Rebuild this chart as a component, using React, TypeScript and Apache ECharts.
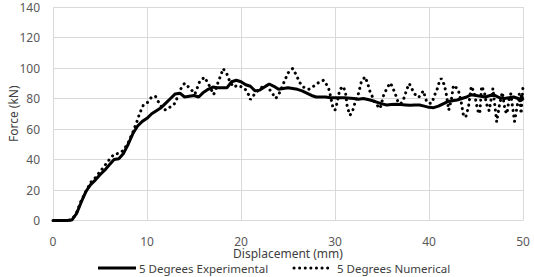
import React, { useEffect, useRef } from "react";
import * as echarts from "echarts";

const xTicks = [0, 10, 20, 30, 40, 50];
const yTicks = [0, 20, 40, 60, 80, 100, 120, 140];

const seriesNames = ["5 Degrees Experimental", "5 Degrees Numerical"];

const expDisp = [0, 0.5, 1, 1.5, 2, 2.5, 3, 3.5, 4, 4.5, 5, 5.5, 6, 6.5, 7, 7.5, 8, 8.5, 9, 9.5, 10, 10.5, 11, 11.5, 12, 12.5, 13, 13.5, 14, 14.5, 15, 15.5, 16, 16.5, 17, 17.5, 18, 18.5, 19, 19.5, 20, 20.5, 21, 21.5, 22, 22.5, 23, 23.5, 24, 24.5, 25, 25.5, 26, 26.5, 27, 27.5, 28, 28.5, 29, 29.5, 30, 31, 32, 32.5, 33, 33.5, 34, 34.5, 35, 35.5, 36, 36.5, 37, 37.5, 38, 38.5, 39, 39.5, 40, 40.5, 41, 41.5, 42, 42.5, 43, 43.5, 44, 44.5, 45, 45.5, 46, 46.5, 47, 47.5, 48, 48.5, 49, 49.5, 49.7, 49.85, 50];
const expForce = [0, 0, 0, 0, 0.3, 4.5, 12, 19, 23.5, 26.5, 30, 33, 36.5, 40, 40.5, 44, 50, 57, 62, 65, 67, 70, 72, 74, 77, 80, 83, 83.5, 81, 81.5, 82, 81, 84, 86, 87.5, 87, 87, 87, 91, 92, 91, 89, 88, 85, 85.5, 87.5, 89.5, 88, 86, 86.5, 87, 86.5, 86, 85, 83.5, 82, 81, 81, 81, 80.5, 80.5, 80.5, 80, 79.5, 80, 79.3, 78.5, 77.5, 76.5, 75.7, 76, 76.3, 76, 75.8, 75.5, 75.8, 75.7, 75, 74.2, 74, 75, 76.5, 78, 78.5, 79, 80, 81, 82.5, 82, 81.5, 81, 82, 82, 80.5, 80, 80.5, 81, 80, 78, 82, 79];

const numDisp = [0, 0.5, 1, 1.5, 2, 2.5, 3, 3.5, 4, 4.5, 5, 5.5, 6, 6.5, 7, 7.5, 8, 8.5, 9, 9.2, 9.6, 10, 10.5, 10.9, 11.2, 11.7, 12, 12.6, 13, 13.5, 14, 14.6, 15.1, 15.6, 16.1, 16.5, 17.1, 17.6, 17.9, 18.1, 18.5, 18.8, 19.2, 19.7, 20.4, 20.8, 21, 21.5, 22.1, 22.7, 23.3, 23.7, 24.1, 24.7, 25, 25.5, 25.9, 26.2, 26.6, 27.2, 27.9, 28.2, 28.8, 29.3, 29.5, 29.8, 30, 30.2, 30.5, 30.8, 31.1, 31.3, 31.6, 31.9, 32.1, 32.5, 32.8, 33.2, 33.5, 33.7, 34.3, 34.8, 35.2, 35.6, 35.9, 36.1, 36.4, 36.7, 37, 37.4, 37.6, 37.9, 38.2, 38.5, 38.9, 39.2, 39.4, 39.7, 40, 40.3, 40.6, 40.9, 41.1, 41.3, 41.6, 41.8, 42.1, 42.4, 42.6, 43.1, 43.5, 43.6, 43.9, 44.2, 44.5, 44.8, 45.2, 45.4, 45.6, 45.9, 46.1, 46.4, 46.8, 47.2, 47.5, 47.8, 48.1, 48.3, 48.5, 48.7, 49.1, 49.3, 49.6, 49.8, 50];
const numForce = [0, 0, 0, 0, 0.5, 5, 13, 19, 25, 28, 32, 36, 40, 43.5, 44, 46, 51, 58, 66, 70, 75.5, 77, 81, 81.5, 78, 73, 72.5, 75, 77, 85.5, 90, 86.5, 83, 91, 94, 90, 82.6, 91.3, 96, 99.6, 96, 91.3, 87.5, 88.7, 86.6, 82.6, 79.3, 83.3, 87, 88.7, 83.7, 80, 83.7, 92.5, 96.8, 99.7, 95.3, 90.9, 87.6, 86, 88.7, 90.2, 92, 87.2, 82.2, 73.5, 72.4, 76.7, 85.5, 88, 85, 74.5, 69, 72.4, 76.7, 83.3, 91, 94.2, 89.4, 85, 76.7, 73.5, 82.6, 87.6, 90.2, 87.6, 83.3, 77.8, 76.5, 81, 85.5, 89.8, 86.1, 82.8, 80.7, 83.3, 85, 78.9, 76.7, 77, 82.2, 86.6, 91, 93.1, 89.4, 84.4, 72.4, 80, 88.7, 86, 75.6, 70.2, 67.6, 74.5, 88, 84, 72, 70, 88, 84, 76.7, 72, 86.6, 64.7, 76, 84, 72, 70, 79, 83, 65, 72, 83, 70, 88];

const FONT = "'Noto Sans', sans-serif";
const DOT_DASH = [0.1, 5.5];

export default function App() {
  const ref = useRef<HTMLDivElement>(null);
  useEffect(() => {
    if (!ref.current) return;
    const chart = echarts.init(ref.current, null, { renderer: "svg" });
    const expData = expDisp.map((d, i) => [d, expForce[i]]);
    const numData = numDisp.map((d, i) => [d, numForce[i]]);
    const legendY = 268;
    chart.setOption({
      animation: false,
      backgroundColor: "#ffffff",
      grid: { left: 53, right: 11, top: 7, bottom: 56.5, containLabel: false, outerBoundsMode: "none" },
      xAxis: {
        type: "value",
        min: xTicks[0],
        max: xTicks[xTicks.length - 1],
        interval: 10,
        name: "Displacement (mm)",
        nameLocation: "middle",
        nameGap: 27,
        nameMoveOverlap: false,
        nameTextStyle: { color: "#404040", fontSize: 12, fontFamily: FONT },
        axisLine: { show: false },
        axisTick: { show: false },
        axisLabel: { color: "#595959", fontSize: 12, fontFamily: FONT, margin: 15 },
        splitLine: { show: true, lineStyle: { color: "#d9d9d9", width: 1 } },
      },
      yAxis: {
        type: "value",
        min: yTicks[0],
        max: yTicks[yTicks.length - 1],
        interval: 20,
        name: "Force (kN)",
        nameLocation: "middle",
        nameGap: 34,
        nameRotate: 90,
        nameMoveOverlap: false,
        nameTextStyle: { color: "#404040", fontSize: 12, fontFamily: FONT },
        axisLine: { show: false },
        axisTick: { show: false },
        axisLabel: { color: "#595959", fontSize: 12, fontFamily: FONT, margin: 13 },
        splitLine: { show: true, lineStyle: { color: "#d9d9d9", width: 1 } },
      },
      graphic: [
        {
          type: "line",
          shape: { x1: 98, y1: legendY, x2: 136, y2: legendY },
          style: { stroke: "#000", lineWidth: 3 },
        },
        {
          type: "text",
          x: 139,
          y: legendY,
          style: { text: seriesNames[0], fill: "#404040", font: `11.5px ${FONT}`, verticalAlign: "middle" },
        },
        {
          type: "line",
          shape: { x1: 294, y1: legendY, x2: 331, y2: legendY },
          style: { stroke: "#000", lineWidth: 3, lineDash: DOT_DASH, lineCap: "round" },
        },
        {
          type: "text",
          x: 337,
          y: legendY,
          style: { text: seriesNames[1], fill: "#404040", font: `11.5px ${FONT}`, verticalAlign: "middle" },
        },
      ],
      series: [
        {
          name: seriesNames[0],
          type: "line",
          data: expData,
          symbol: "none",
          color: "#000",
          lineStyle: { color: "#000000", width: 3 },
          z: 3,
        },
        {
          name: seriesNames[1],
          type: "line",
          data: numData,
          symbol: "none",
          color: "#000",
          lineStyle: { color: "#000000", width: 3, type: DOT_DASH, cap: "round" },
          z: 2,
        },
      ],
    });
    return () => chart.dispose();
  }, []);
  return <div ref={ref} style={{ width: 534, height: 277, position: "absolute", left: 0, top: 0 }} />;
}
